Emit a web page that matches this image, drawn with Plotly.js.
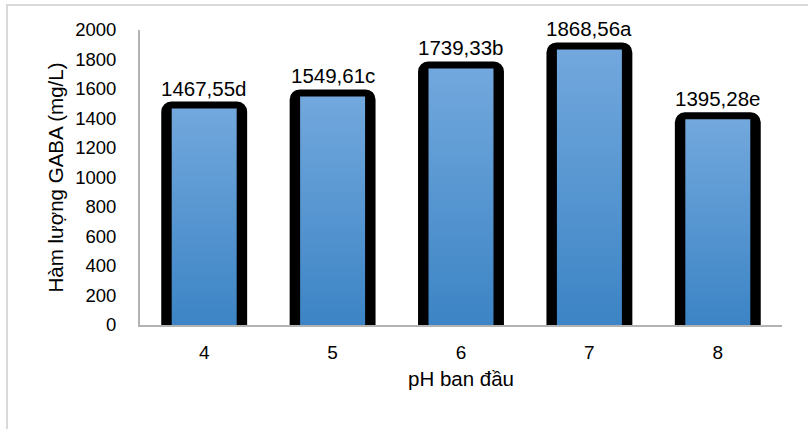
<!DOCTYPE html>
<html>
<head>
<meta charset="utf-8">
<script src="https://cdn.plot.ly/plotly-3.0.1.min.js"></script>
<style>
  html, body { margin: 0; padding: 0; background: #fff; }
  #wrap { position: relative; width: 808px; height: 429px; overflow: hidden; }
  #chart { width: 808px; height: 429px; }
  #frame {
    position: absolute; left: 6px; top: 4px; width: 900px; height: 500px;
    border-left: 2px solid #d9d9d9; border-top: 2px solid #d9d9d9;
    pointer-events: none;
  }
</style>
</head>
<body>
<div id="wrap">
  <div id="chart"></div>
  <div id="frame"></div>
</div>
<script>
// Initial pH of the medium and the GABA content measured at each level
const phLevels = ['4', '5', '6', '7', '8'];
const gabaValues = [1467.55, 1549.61, 1739.33, 1868.56, 1395.28];
const signifLetters = ['d', 'c', 'b', 'a', 'e'];

const yTickVals = [0, 200, 400, 600, 800, 1000, 1200, 1400, 1600, 1800, 2000];

// value labels in Vietnamese decimal style: "1467,55d"
const valueLabels = gabaValues.map((v, i) => v.toFixed(2).replace('.', ',') + signifLetters[i]);

const FONT = 'Liberation Sans, Arial, sans-serif';

// dark rounded frame behind each bar
const frameTrace = {
  type: 'bar',
  x: phLevels,
  y: gabaValues,
  width: 0.56,
  marker: {
    color: '#000',
    line: { color: '#000', width: 14 },
    cornerradius: 3
  },
  hoverinfo: 'skip',
  showlegend: false
};

// blue bar body (gradient applied after render)
const barTrace = {
  type: 'bar',
  x: phLevels,
  y: gabaValues,
  width: 0.506,
  marker: { color: '#5796d2', line: { width: 0 } },
  hoverinfo: 'skip',
  showlegend: false
};

// value labels sit above each bar; category position given by its index
const annotations = phLevels.map((p, i) => ({
  x: i,
  y: gabaValues[i],
  xref: 'x',
  yref: 'y',
  text: valueLabels[i],
  showarrow: false,
  yanchor: 'bottom',
  yshift: 7,
  font: { family: FONT, size: 20.5, color: '#000' }
}));

const layout = {
  width: 808,
  height: 429,
  margin: { l: 140, r: 26, t: 30, b: 104 },
  paper_bgcolor: '#fff',
  plot_bgcolor: '#fff',
  barmode: 'overlay',
  hovermode: false,
  showlegend: false,
  font: { family: FONT, size: 18, color: '#000' },
  xaxis: {
    type: 'category',
    categoryarray: phLevels,
    range: [-0.5, phLevels.length - 0.5],
    showgrid: false,
    zeroline: false,
    showline: true,
    linecolor: '#b3b3b3',
    linewidth: 2,
    ticks: '',
    ticklabelstandoff: 9,
    tickfont: { family: FONT, size: 19, color: '#000' },
    title: { text: 'pH ban đầu', standoff: 10, font: { family: FONT, size: 20.5, color: '#000' } }
  },
  yaxis: {
    range: [0, 2000],
    tickvals: yTickVals,
    ticktext: yTickVals.map(String),
    showgrid: false,
    zeroline: false,
    showline: true,
    linecolor: '#b3b3b3',
    linewidth: 2,
    ticks: '',
    ticklabelstandoff: 18,
    tickfont: { family: FONT, size: 18.5, color: '#000' },
    title: { text: 'Hàm lượng GABA (mg/L)', standoff: 6, font: { family: FONT, size: 20.5, color: '#000' } }
  },
  annotations: annotations
};

Plotly.newPlot('chart', [frameTrace, barTrace], layout, { staticPlot: true, displayModeBar: false }).then(gd => {
  // vertical light-to-dark blue gradient for the bar bodies
  const svg = gd.querySelector('svg.main-svg');
  const ns = 'http://www.w3.org/2000/svg';
  let defs = svg.querySelector('defs');
  if (!defs) { defs = document.createElementNS(ns, 'defs'); svg.insertBefore(defs, svg.firstChild); }
  const grad = document.createElementNS(ns, 'linearGradient');
  grad.setAttribute('id', 'barBlueGrad');
  grad.setAttribute('x1', '0'); grad.setAttribute('y1', '0');
  grad.setAttribute('x2', '0'); grad.setAttribute('y2', '1');
  [['0%', '#72a8dd'], ['100%', '#3c84c5']].forEach(([off, col]) => {
    const s = document.createElementNS(ns, 'stop');
    s.setAttribute('offset', off);
    s.setAttribute('stop-color', col);
    grad.appendChild(s);
  });
  defs.appendChild(grad);
  const traces = gd.querySelectorAll('.barlayer .trace');
  if (traces[1]) {
    traces[1].querySelectorAll('.point path').forEach(p => { p.style.fill = 'url(#barBlueGrad)'; });
  }
});
</script>
</body>
</html>
